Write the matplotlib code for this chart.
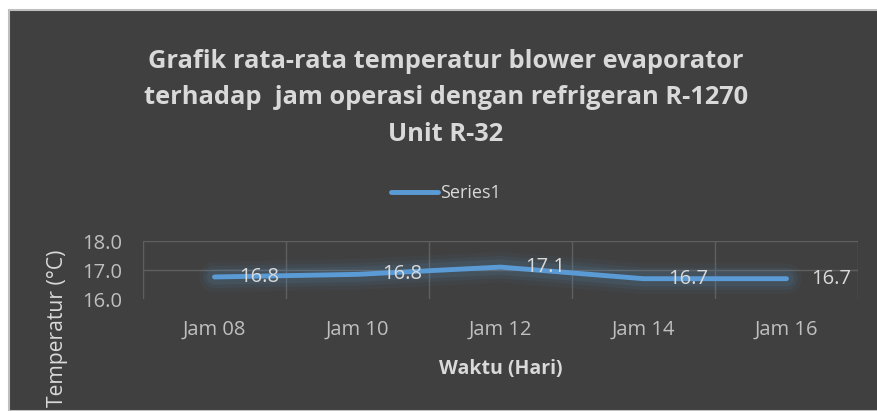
import matplotlib
matplotlib.use('Agg')
import matplotlib.pyplot as plt
from matplotlib.patches import Rectangle
import numpy as np

categories = ['Jam 08', 'Jam 10', 'Jam 12', 'Jam 14', 'Jam 16']
values = [16.76, 16.85, 17.10, 16.70, 16.70]
labels = ['16.8', '16.8', '17.1', '16.7', '16.7']
yticks = [16.0, 17.0, 18.0]

BG = '#404040'
TXT = '#d9d9d9'
LINE = '#5b9bd5'

plt.rcParams['font.family'] = ['Open Sans', 'DejaVu Sans']

fig = plt.figure(figsize=(8.78, 4.11), dpi=100)
fig.patch.set_facecolor('white')
# dark chart area with light frame
fig.add_artist(Rectangle((9/878, 0), 1, 1 - 10/411, transform=fig.transFigure,
                         facecolor=BG, edgecolor='#bfbfbf', linewidth=1.5, zorder=-10))

ax = fig.add_axes([143/878, (411-299)/411, (858-143)/878, (299-241)/411])
ax.set_facecolor(BG)
x = np.arange(len(categories))

# glow
for lw, a in [(22, 0.05), (16, 0.07), (11, 0.1)]:
    ax.plot(x, values, color=LINE, lw=lw, alpha=a, solid_capstyle='round', zorder=2)
ax.plot(x, values, color=LINE, lw=3.5, solid_capstyle='round', zorder=3, label='Series1')

for xi, v, t in zip(x, values, labels):
    ax.annotate(t, (xi, v), xytext=(18, 0), textcoords='offset points',
                ha='left', va='center', color=TXT, fontsize=14.5, zorder=4)

ax.set_xlim(-0.5, len(categories) - 0.5)
ax.set_ylim(16, 18)
ax.set_yticks(yticks)
ax.set_yticklabels([f'{t:.1f}' for t in yticks])
ax.set_xticks(x)
ax.set_xticklabels(categories)
ax.tick_params(length=0, colors='#bfbfbf', labelsize=14.5)
ax.tick_params(axis='x', pad=15)
ax.tick_params(axis='y', pad=15)
for s in ax.spines.values():
    s.set_visible(False)
for yv in [17, 18]:
    ax.axhline(yv, color='#5f5f5f', lw=1, zorder=1)
for xb in np.arange(-0.5, len(categories), 1.0):
    ax.axvline(xb, color='#5f5f5f', lw=1, zorder=1)

ax.set_xlabel('Waktu (Hari)', color=TXT, fontsize=14, fontweight='bold', labelpad=14)
fig.text(57/878, 1 - 250/411, 'Temperatur (°C)', rotation=90, ha='center', va='top',
         color=TXT, fontsize=15.2)

fig.text(446/878, 1 - 98/411,
         'Grafik rata-rata temperatur blower evaporator\nterhadap  jam operasi dengan refrigeran R-1270\nUnit R-32',
         ha='center', va='center', color=TXT, fontsize=18.3, fontweight='bold', linespacing=1.62)

leg = ax.legend(loc='center', bbox_to_anchor=(446/878, 1 - 193/411), bbox_transform=fig.transFigure,
                frameon=False, fontsize=13, handlelength=2.6, handletextpad=0.1)
for t in leg.get_texts():
    t.set_color(TXT)

fig.savefig('out.png', dpi=100, facecolor=fig.get_facecolor())
